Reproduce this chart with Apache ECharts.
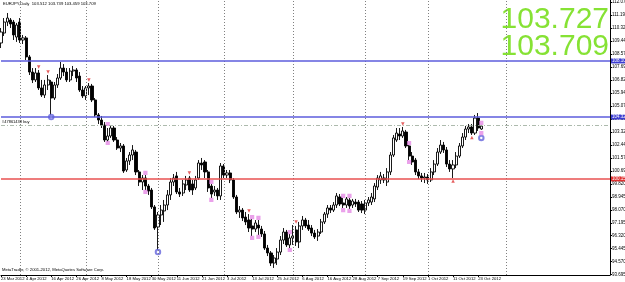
<!DOCTYPE html>
<html><head><meta charset="utf-8">
<script src="https://cdn.jsdelivr.net/npm/echarts@6/dist/echarts.min.js"></script>
<style>html,body{margin:0;padding:0;background:#fff}#c{width:625px;height:282px}</style>
</head><body><div id="c"></div>
<script>
// EURJPY Daily, bar index 0 = 23 Mar 2012
const opens = [109.31,109.98,110.72,110.86,110.72,109.71,110.72,109.51,109.65,108.37,107.35,106.82,107.29,106.28,105.80,106.48,106.68,105.60,106.48,106.95,107.62,107.35,106.82,107.42,107.49,107.08,106.14,105.74,106.28,106.41,105.47,104.46,104.12,103.78,102.77,103.04,103.58,102.77,102.23,102.37,100.75,101.36,101.76,101.96,100.62,99.94,100.21,99.67,99.40,98.26,96.91,97.72,97.99,98.39,99.07,99.94,100.35,99.27,99.20,99.74,100.21,99.81,99.54,100.21,101.22,101.29,100.62,99.67,99.27,99.40,99.00,101.02,100.41,100.55,100.08,98.93,97.92,98.05,97.58,97.38,96.98,96.77,97.04,96.77,96.44,95.49,95.16,94.48,94.75,95.22,96.03,96.57,95.70,96.17,96.71,95.90,96.98,97.38,97.04,96.84,96.50,96.30,96.57,97.25,97.78,98.19,98.05,98.39,98.93,98.53,98.39,98.73,98.39,98.59,98.59,98.46,98.05,98.53,98.59,98.80,99.60,100.08,100.21,99.94,100.62,101.76,102.77,103.18,103.04,103.31,102.37,101.69,101.42,100.62,100.35,100.21,100.28,100.08,100.62,101.15,101.96,102.43,102.10,101.15,100.82,101.09,101.69,102.37,102.97,103.51,103.65,103.24,104.25,103.512];
const closes = [110.05,110.72,110.99,110.59,109.85,110.52,109.51,109.65,108.37,107.35,106.82,107.29,106.28,105.80,106.48,106.82,105.60,106.48,106.95,107.62,107.35,106.82,107.42,107.49,106.95,106.14,105.74,106.28,106.41,105.47,104.46,104.12,103.78,102.77,103.04,103.58,102.77,102.23,102.37,100.68,101.36,101.76,102.10,100.62,99.94,100.21,99.67,99.33,98.26,96.84,97.72,98.05,98.39,99.07,99.94,100.21,99.27,99.13,99.81,100.08,99.40,99.40,100.08,101.22,101.09,100.62,99.54,99.13,99.40,99.00,101.02,100.41,100.55,100.08,98.93,97.92,98.05,97.52,97.25,96.84,96.77,97.18,96.84,96.44,95.49,95.16,94.48,94.82,95.22,96.03,96.57,95.70,96.17,96.30,95.90,96.98,97.38,96.98,96.77,96.50,96.24,96.57,97.25,97.78,98.19,98.05,98.39,99.00,98.46,98.39,98.80,98.32,98.66,98.46,98.05,98.05,98.53,98.73,98.93,99.67,100.21,100.35,100.08,100.62,101.76,102.91,103.24,103.04,103.38,102.37,101.69,101.29,100.62,100.35,100.21,100.28,100.08,100.62,101.15,101.96,102.43,102.10,101.15,100.82,101.09,101.69,102.37,102.97,103.51,103.65,103.24,104.25,103.58,103.709];
const lows = [108.97,109.78,110.45,110.32,109.51,109.38,109.31,109.24,108.16,107.15,106.61,106.68,106.14,105.67,105.60,106.14,104.46,105.47,106.28,106.82,107.08,106.68,106.68,107.08,106.68,106.01,105.60,105.47,105.80,105.33,104.32,103.85,103.58,102.64,102.64,102.91,102.64,102.10,101.96,100.55,100.62,101.09,101.42,100.41,99.67,99.40,99.40,99.07,98.12,96.71,95.36,97.04,97.25,98.05,98.73,99.67,99.13,98.93,99.00,99.40,99.27,99.07,99.40,100.08,100.75,100.21,99.27,98.86,99.00,98.73,98.73,100.21,100.21,99.87,98.80,97.78,97.52,97.31,97.04,96.57,96.30,96.57,96.37,96.24,95.36,94.95,94.28,94.15,94.35,95.02,95.76,95.56,95.49,95.70,95.63,95.49,96.71,96.84,96.64,96.30,96.10,95.97,96.44,97.11,97.52,97.85,97.92,98.19,98.32,98.19,98.19,98.12,98.19,98.26,97.92,97.85,97.78,98.32,98.39,98.59,99.40,99.81,99.87,99.67,100.41,101.63,102.64,102.77,102.91,102.23,101.42,101.09,100.41,100.14,99.94,99.87,99.81,99.94,100.41,101.02,101.83,101.90,100.95,100.62,100.21,100.88,101.56,102.23,102.77,103.24,103.11,103.11,103.38,103.459];
const highs = [110.32,110.99,111.33,110.99,110.86,110.66,110.99,109.85,109.78,108.50,107.62,107.62,107.49,106.82,106.82,107.15,106.82,106.68,107.22,108.03,107.89,107.62,107.62,107.76,107.62,107.35,106.41,106.41,106.61,106.55,105.60,104.59,104.39,103.98,103.58,103.72,103.72,102.97,102.57,102.50,101.56,101.96,102.43,102.10,100.75,100.41,100.41,99.81,99.54,98.39,97.92,98.39,98.73,99.40,100.21,100.48,100.62,99.54,100.08,100.35,100.35,100.08,100.35,101.42,101.56,101.42,100.75,99.81,99.67,99.54,101.22,101.15,100.75,100.75,100.21,99.07,98.32,98.19,97.92,97.78,97.45,97.38,97.38,96.98,96.64,95.70,95.29,95.02,95.49,96.30,96.84,96.71,96.44,97.04,96.98,97.25,97.65,97.52,97.38,97.04,96.71,96.77,97.45,97.92,98.39,98.39,98.59,99.20,99.13,98.86,98.93,98.86,98.80,98.80,98.73,98.66,98.73,98.93,99.20,99.87,100.41,100.62,100.48,100.88,101.96,103.11,103.58,103.58,103.65,103.45,102.43,101.96,101.56,100.82,100.55,100.55,100.48,100.88,101.42,102.23,102.77,102.64,102.30,101.42,101.42,101.96,102.57,103.24,103.72,103.85,103.85,104.46,104.59,103.739];
const totalSlots = 195; // bars plus right-side chart shift
const dateLabels = ['23 Mar 2012','4 Apr 2012','16 Apr 2012','26 Apr 2012','8 May 2012','18 May 2012','30 May 2012','11 Jun 2012','21 Jun 2012','3 Jul 2012','13 Jul 2012','25 Jul 2012','6 Aug 2012','16 Aug 2012','28 Aug 2012','7 Sep 2012','19 Sep 2012','1 Oct 2012','11 Oct 2012','23 Oct 2012'];
const priceTicks = [93.695,94.570,95.445,96.320,97.195,98.070,98.945,99.820,100.695,101.570,102.445,103.320,104.195,105.070,105.945,106.820,107.695,108.570,109.445,110.320,111.195,112.070];
const separators = [6,27,50,71,93,116,136,161];
const blueLevels = [108.10,104.32];
const redLevels = [100.15];
const orderLevel = 103.78;
const orderText = '#47861438 buy';
const bidPrice = 103.709, askPrice = 103.727;
const headerText = 'EURJPY,Daily  103.512 103.739 103.459 103.709';
const fractalHigh = [[12,107.69],[15,107.35],[28,106.82],[60,100.55],[79,97.99],[94,97.25],[128,103.85]];
const fractalLow = [[144,100.01],[150,102.94]];
const circleLows = [[16,104.32],[50,95.22],[153,102.91]];
const pinkMarks = [[34,103.85],[34,102.57],[46,100.55],[46,99.27],[67,99.94],[67,98.73],[80,97.58],[80,96.17],[82,97.52],[82,96.24],[92,96.57],[92,95.36],[109,99.00],[109,98.05],[111,99.00],[111,97.99],[130,102.57],[130,101.29],[153,103.92],[153,103.24]];

const cats = Array.from({length: totalSlots}, (_, i) => String(i));
const candles = opens.map((o, i) => [o, closes[i], lows[i], highs[i]]);

const lineData = [];
separators.forEach(i => lineData.push({xAxis: i, lineStyle: {color: '#808080', type: [1, 2], width: 1}, label: {show: false}}));
const lvlLabel = (bg, v) => ({show: true, position: 'end', distance: 1, formatter: () => v.toFixed(3), color: '#fff', backgroundColor: bg, fontSize: 4.5, fontFamily: 'Arial', padding: [0, 1, 0, 1]});
blueLevels.forEach(v => lineData.push({yAxis: v, lineStyle: {color: '#5c5cdc', width: 1.6, type: 'solid'}, label: lvlLabel('#3c3cd0', v)}));
redLevels.forEach(v => lineData.push({yAxis: v, lineStyle: {color: '#e85050', width: 1.6, type: 'solid'}, label: lvlLabel('#e03030', v)}));
lineData.push({yAxis: orderLevel, lineStyle: {color: '#98a898', width: 0.8, type: [4, 2, 1, 2]}, label: {show: true, position: 'insideStartTop', distance: 1, formatter: orderText, color: '#000', fontSize: 4, fontFamily: 'Arial'}});
lineData.push({yAxis: bidPrice, lineStyle: {opacity: 0}, label: lvlLabel('#000', bidPrice)});

const chart = echarts.init(document.getElementById('c'), null, {renderer: 'canvas'});
chart.setOption({
  animation: false,
  backgroundColor: '#fff',
  grid: {left: 1, right: 15, top: 0, bottom: 7, containLabel: false, outerBoundsMode: 'none'},
  xAxis: {
    type: 'category', data: cats, boundaryGap: false,
    axisLine: {show: true, lineStyle: {color: '#000', width: 1}},
    axisTick: {show: true, length: 2, interval: (i) => i % 8 === 0 && i / 8 < dateLabels.length, lineStyle: {color: '#000'}},
    axisLabel: {show: true, interval: (i) => i % 8 === 0 && i / 8 < dateLabels.length, formatter: (v, i) => dateLabels[i / 8] || '', align: 'left', fontSize: 4.2, fontFamily: 'Arial', color: '#000', margin: 1.5},
    splitLine: {show: false}
  },
  yAxis: {
    type: 'value', position: 'right', min: 93.674, max: 112.206,
    axisLine: {show: true, lineStyle: {color: '#000', width: 1}},
    axisTick: {show: true, length: 2, customValues: priceTicks, lineStyle: {color: '#000'}},
    axisLabel: {show: true, customValues: priceTicks, formatter: v => v.toFixed(3), fontSize: 4.5, fontFamily: 'Arial', color: '#000', margin: 2},
    splitLine: {show: false}
  },
  graphic: [
    {type: 'text', left: 3, top: 2, style: {text: headerText, fontSize: 4.2, fontFamily: 'Arial', fill: '#000'}},
    {type: 'text', left: 2, top: 268, style: {text: 'MetaTrader, \u00a9 2001-2012, MetaQuotes Software Corp.', fontSize: 4.2, fontFamily: 'Arial', fill: '#000'}},
    {type: 'text', right: 16, top: 5, style: {text: askPrice.toFixed(3), fontSize: 30, fontFamily: 'Liberation Sans', fill: '#86e234'}},
    {type: 'text', right: 16, top: 32, style: {text: bidPrice.toFixed(3), fontSize: 30, fontFamily: 'Liberation Sans', fill: '#86e234'}}
  ],
  series: [
    {
      type: 'candlestick', data: candles, barWidth: 2.6, clip: false,
      itemStyle: {color: '#ffffff', color0: '#000000', borderColor: '#000000', borderColor0: '#000000', borderWidth: 0.9},
      markLine: {silent: true, symbol: 'none', animation: false, data: lineData}
    },
    {type: 'scatter', data: fractalHigh, symbol: 'triangle', symbolRotate: 180, symbolSize: [3.5, 3.5], itemStyle: {color: '#e03a3a'}, silent: true},
    {type: 'scatter', data: fractalLow, symbol: 'triangle', symbolSize: [3.5, 3.5], itemStyle: {color: '#e03a3a'}, silent: true},
    {type: 'scatter', data: circleLows, symbol: 'emptyCircle', symbolSize: 4.5, itemStyle: {color: '#6464dc', borderWidth: 1}, silent: true},
    {type: 'scatter', data: pinkMarks, symbol: 'emptyRect', symbolSize: 2.2, itemStyle: {color: '#e58ae5', borderWidth: 0.7}, silent: true}
  ]
});
</script></body></html>
